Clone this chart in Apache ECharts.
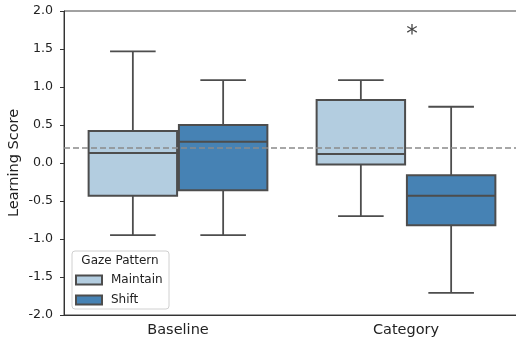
<!DOCTYPE html>
<html>
<head>
<meta charset="utf-8">
<script src="https://cdn.jsdelivr.net/npm/echarts@6/dist/echarts.min.js"></script>
<style>
  html, body { margin: 0; padding: 0; background: #fff; }
  #chart { width: 516px; height: 343px; }
</style>
</head>
<body>
<div id="chart"></div>
<script>
// Conditions on the x axis
const categories = ['Baseline', 'Category'];
// Five-number summaries per condition: [min, q1, median, q3, max]
const maintainStats = [
  [-0.95, -0.43, 0.13, 0.42, 1.47],
  [-0.70, -0.02, 0.12, 0.83, 1.09]
];
const shiftStats = [
  [-0.95, -0.36, 0.28, 0.50, 1.09],
  [-1.71, -0.82, -0.43, -0.16, 0.74]
];
const groupNames = ['Maintain', 'Shift'];
// Reference line and significance marker
const referenceLevel = 0.2;
const significance = [{ category: 1, value: 1.7, text: '*' }];
const yTicks = { min: -2, max: 2, step: 0.5 };

const LINE = '#4d4d4d';
const FONT = 'DejaVu Sans';
const BOX_FRAC = 0.388;
const CAP_FRAC = 0.2;
const OFFSET_FRAC = 0.198;

function boxRenderer(offsetFrac) {
  return function (params, api) {
    const cat = api.value(0);
    const band = api.size([1, 0])[0];
    const cx = api.coord([cat, 0])[0] + offsetFrac * band;
    const half = BOX_FRAC * band / 2;
    const capHalf = CAP_FRAC * band / 2;
    const y = i => api.coord([cat, api.value(i)])[1];
    const yMin = y(1), yQ1 = y(2), yMed = y(3), yQ3 = y(4), yMax = y(5);
    const fill = api.visual('color');
    const ls = { stroke: LINE, lineWidth: 1.8 };
    return {
      type: 'group',
      children: [
        { type: 'line', shape: { x1: cx, y1: yMax, x2: cx, y2: yQ3 }, style: ls },
        { type: 'line', shape: { x1: cx, y1: yQ1, x2: cx, y2: yMin }, style: ls },
        { type: 'line', shape: { x1: cx - capHalf, y1: yMax, x2: cx + capHalf, y2: yMax }, style: ls },
        { type: 'line', shape: { x1: cx - capHalf, y1: yMin, x2: cx + capHalf, y2: yMin }, style: ls },
        { type: 'rect', shape: { x: cx - half, y: yQ3, width: 2 * half, height: yQ1 - yQ3 },
          style: { fill: fill, stroke: LINE, lineWidth: 2 } },
        { type: 'line', shape: { x1: cx - half, y1: yMed, x2: cx + half, y2: yMed },
          style: { stroke: LINE, lineWidth: 2 } }
      ]
    };
  };
}

function toData(stats) {
  return stats.map((s, i) => [i].concat(s));
}

const chart = echarts.init(document.getElementById('chart'), null, { renderer: 'canvas' });
chart.setOption({
  animation: false,
  backgroundColor: '#fff',
  grid: {
    left: 64, top: 11, width: 456, height: 304,
    containLabel: false, outerBoundsMode: 'none',
    show: true, borderColor: '#444', borderWidth: 1, backgroundColor: 'transparent'
  },
  xAxis: {
    type: 'category',
    data: categories,
    axisLine: { onZero: false, lineStyle: { color: '#333', width: 1 } },
    axisTick: { alignWithLabel: true, length: 4, lineStyle: { color: '#333' } },
    axisLabel: { color: '#222', fontFamily: FONT, fontSize: 14.5, margin: 8 },
    splitLine: { show: false }
  },
  yAxis: {
    type: 'value',
    min: yTicks.min, max: yTicks.max, interval: yTicks.step,
    name: 'Learning Score',
    nameLocation: 'middle',
    nameGap: 42,
    nameMoveOverlap: false,
    nameTextStyle: { color: '#222', fontFamily: FONT, fontSize: 14.5 },
    axisLine: { show: true, lineStyle: { color: '#333', width: 1 } },
    axisTick: { show: true, length: 4, lineStyle: { color: '#333' } },
    axisLabel: { color: '#222', fontFamily: FONT, fontSize: 12.6, margin: 11, formatter: v => v.toFixed(1) },
    splitLine: { show: false }
  },
  legend: {
    data: groupNames,
    orient: 'vertical',
    left: 75, top: 274,
    itemWidth: 26, itemHeight: 9, itemGap: 8,
    icon: 'rect',
    padding: 0,
    textStyle: { color: '#222', fontFamily: FONT, fontSize: 12, padding: [0, 0, 0, 4] },
    z: 10
  },
  graphic: [
    { type: 'rect', z: 9, shape: { x: 72, y: 251, width: 97, height: 58, r: 3 },
      style: { fill: 'rgba(255,255,255,0.85)', stroke: '#d0d0d0', lineWidth: 1 } },
    { type: 'text', z: 10, style: { x: 120, y: 261, text: 'Gaze Pattern', align: 'center', verticalAlign: 'middle',
      fill: '#222', font: '12px "DejaVu Sans"' } }
  ],
  series: [
    {
      name: groupNames[0], type: 'custom',
      renderItem: boxRenderer(-OFFSET_FRAC),
      itemStyle: { color: '#b3cde0', borderColor: LINE, borderWidth: 1 },
      encode: { x: 0, y: [1, 2, 3, 4, 5] },
      data: toData(maintainStats),
      markLine: {
        silent: true, symbol: 'none', label: { show: false },
        lineStyle: { color: '#8a8a8a', type: [6, 3], width: 1.6 },
        data: [{ yAxis: referenceLevel }]
      },
      z: 3
    },
    {
      name: groupNames[1], type: 'custom',
      renderItem: boxRenderer(OFFSET_FRAC),
      itemStyle: { color: '#4682b4', borderColor: LINE, borderWidth: 1 },
      encode: { x: 0, y: [1, 2, 3, 4, 5] },
      data: toData(shiftStats),
      z: 3
    },
    {
      name: 'significance', type: 'scatter',
      symbolSize: 0,
      data: significance.map(s => [s.category, s.value]),
      label: {
        show: true, position: 'inside', offset: [6, 1],
        formatter: p => significance[p.dataIndex].text,
        color: '#111', fontFamily: FONT, fontSize: 23
      },
      z: 5
    }
  ]
});
</script>
</body>
</html>
